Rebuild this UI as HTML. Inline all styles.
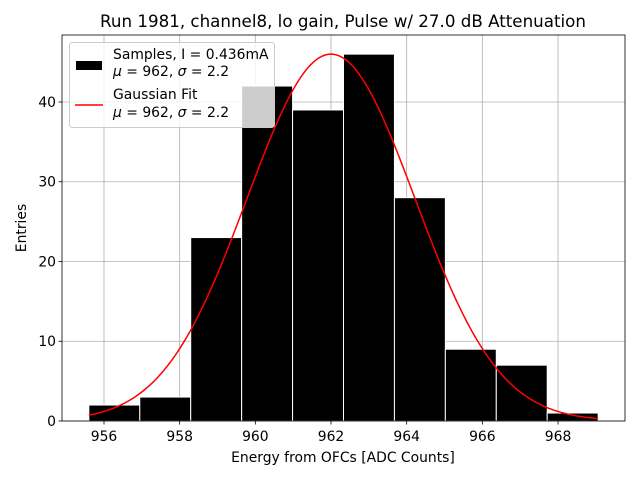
<!DOCTYPE html>
<html><head><meta charset="utf-8"><style>body{margin:0;background:#fff}svg{display:block;font-family:"DejaVu Sans","Liberation Sans",sans-serif}</style></head>
<body>
<svg id="c" width="640" height="480">
<text x="343" y="27" font-size="16.7" text-anchor="middle">Run 1981, channel8, lo gain, Pulse w/ 27.0 dB Attenuation</text>
<g id="grid"></g><g id="bars"></g><g id="fit"></g><g id="axes"></g>
<text x="343" y="462" font-size="13.9" text-anchor="middle">Energy from OFCs [ADC Counts]</text>
<text x="26" y="228" font-size="13.9" text-anchor="middle" transform="rotate(-90 26 228)">Entries</text>
<g>
<rect x="69.5" y="42.5" width="205" height="85" rx="3" fill="#fff" fill-opacity="0.8" stroke="#ccc"/>
<rect x="76" y="61" width="26" height="9" fill="#000"/>
<text x="113" y="59" font-size="13.9">Samples, I = 0.436mA</text>
<text x="113" y="76" font-size="13.9"><tspan font-style="italic">μ</tspan> = 962, <tspan font-style="italic">σ</tspan> = 2.2</text>
<line x1="75" y1="105" x2="103" y2="105" stroke="red" stroke-width="1.5"/>
<text x="113" y="99" font-size="13.9">Gaussian Fit</text>
<text x="113" y="117" font-size="13.9"><tspan font-style="italic">μ</tspan> = 962, <tspan font-style="italic">σ</tspan> = 2.2</text>
</g>
</svg>
<script>
const binEdges=[955.6,956.946,958.292,959.638,960.984,962.33,963.676,965.022,966.368,967.714,969.06];
const counts=[2,3,23,42,39,46,28,9,7,1];
const xTicks=[956,958,960,962,964,966,968];
const yTicks=[0,10,20,30,40];
const fitMu=962.0, fitSigma=2.22, fitAmp=46;
const L=62,R=625,T=35,B=421,X0=954.89,X1=969.77,Y0=0,Y1=48.4;
const sx=v=>L+(v-X0)/(X1-X0)*(R-L), sy=v=>B-(v-Y0)/(Y1-Y0)*(B-T);
const NS="http://www.w3.org/2000/svg";
function mk(p,t,a){const e=document.createElementNS(NS,t);for(const k in a)e.setAttribute(k,a[k]);p.appendChild(e);return e;}
const g=document.getElementById('grid'),bg=document.getElementById('bars'),fg=document.getElementById('fit'),ag=document.getElementById('axes');
xTicks.forEach(v=>{const x=sx(v);
const l=mk(g,'line',{x1:x,x2:x,y1:T,y2:B,stroke:'#b0b0b0','stroke-width':0.8});


mk(ag,'line',{x1:x,x2:x,y1:B,y2:B+3.5,stroke:'#000','stroke-width':0.8});
const t=mk(ag,'text',{x:x,y:B+20,'font-size':13.9,'text-anchor':'middle'});t.textContent=v;

});
yTicks.forEach(v=>{const y=sy(v);
const l=mk(g,'line',{x1:L,x2:R,y1:y,y2:y,stroke:'#b0b0b0','stroke-width':0.8});


mk(ag,'line',{x1:L-3.5,x2:L,y1:y,y2:y,stroke:'#000','stroke-width':0.8});
const t=mk(ag,'text',{x:L-6,y:y+5,'font-size':13.9,'text-anchor':'end'});t.textContent=v;

});
counts.forEach((c,i)=>{const x=sx(binEdges[i]),w=sx(binEdges[i+1])-x;
const r=mk(bg,'rect',{x:x,y:sy(c),width:w,height:sy(0)-sy(c),fill:'#000',stroke:'#fff','stroke-width':1});

});
let d='';for(let i=0;i<=300;i++){const v=binEdges[0]+(binEdges[binEdges.length-1]-binEdges[0])*i/300;
const f=fitAmp*Math.exp(-((v-fitMu)**2)/(2*fitSigma*fitSigma));d+=(i?'L':'M')+sx(v).toFixed(2)+','+sy(f).toFixed(2);}
const p=mk(fg,'path',{d:d,fill:'none',stroke:'red','stroke-width':1.5});


const fr=mk(ag,'rect',{x:L,y:T,width:R-L,height:B-T,fill:'none',stroke:'#000','stroke-width':0.8});


</script>
</body></html>
